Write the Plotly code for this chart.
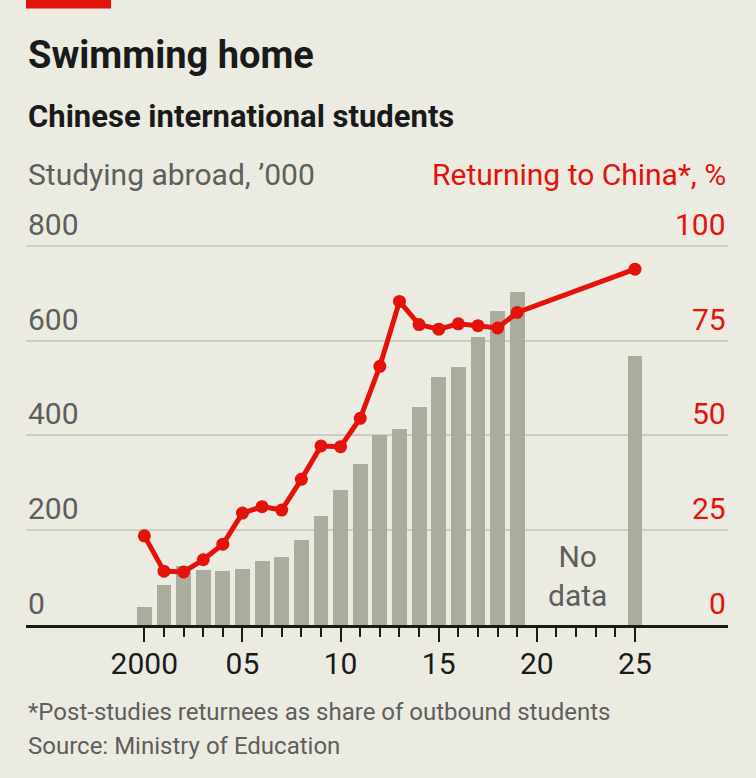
import plotly.graph_objects as go

# ---- data ----
bar_years = [2000, 2001, 2002, 2003, 2004, 2005, 2006, 2007, 2008, 2009,
             2010, 2011, 2012, 2013, 2014, 2015, 2016, 2017, 2018, 2019, 2025]
studying_abroad = [39, 84, 125, 117, 114, 119, 134, 144, 180, 229,
                   285, 340, 400, 414, 460, 524, 545, 608, 662, 703, 568]

line_years = [2000, 2001, 2002, 2003, 2004, 2005, 2006, 2007, 2008, 2009,
              2010, 2011, 2012, 2013, 2014, 2015, 2016, 2017, 2018, 2019, 2025]
returning_pct = [23.5, 14.2, 14.0, 17.2, 21.3, 29.5, 31.2, 30.3, 38.4, 47.2,
                 47.0, 54.5, 68.2, 85.3, 79.2, 78.0, 79.4, 78.9, 78.3, 82.4, 93.8]

left_ticks = [0, 200, 400, 600, 800]
right_ticks = [0, 25, 50, 75, 100]
x_major = [2000, 2005, 2010, 2015, 2020, 2025]
x_major_text = ["2000", "05", "10", "15", "20", "25"]
x_minor = list(range(2000, 2026))

# ---- style ----
BG = "#ECEBE1"
BAR = "#ABAB9E"
RED = "#E3120B"
GRID = "#CDCCC2"
GREY_TXT = "#5E5E5E"
DARK = "#1A1A1A"
FONT = "Roboto, sans-serif"

W, H = 756, 778
ML, MR, MB = 26, 28, 153
PX_PER_UNIT = 379 / 800          # 800 units span 379 px
Y_TOP = 812
plot_h = Y_TOP * PX_PER_UNIT
MT = H - MB - plot_h
Y2_TOP = 100 * Y_TOP / 800


def py(pix):
    return (H - MB - pix) / plot_h


def px(pix):
    return (pix - ML) / (W - ML - MR)


fig = go.Figure()
fig.add_trace(go.Bar(x=bar_years, y=studying_abroad, marker_color=BAR,
                     marker_line_width=0, width=0.76, yaxis="y"))
fig.add_trace(go.Scatter(x=line_years, y=returning_pct, yaxis="y2",
                         mode="lines+markers",
                         line=dict(color=RED, width=5),
                         marker=dict(color=RED, size=13),
                         cliponaxis=False))

fig.update_layout(
    width=W, height=H,
    paper_bgcolor=BG, plot_bgcolor=BG,
    margin=dict(l=ML, r=MR, t=MT, b=MB, pad=0),
    showlegend=False,
    bargap=0,
    font=dict(family=FONT, color=GREY_TXT),
    xaxis=dict(
        range=[1993.97, 2029.74],
        tickvals=x_major, ticktext=x_major_text,
        ticks="outside", ticklen=14, tickwidth=2, tickcolor=DARK,
        minor=dict(tickvals=x_minor, ticks="outside", ticklen=9,
                   tickwidth=2, tickcolor=DARK),
        showline=True, linecolor=DARK, linewidth=2.5,
        showgrid=False, zeroline=False,
        ticklabelstandoff=-4,
        tickfont=dict(size=30, color=DARK, family=FONT),
        fixedrange=True,
    ),
    yaxis=dict(
        range=[0, Y_TOP], tickvals=left_ticks[1:],
        showgrid=True, gridcolor=GRID, gridwidth=2,
        zeroline=False, showticklabels=False, ticks="",
        fixedrange=True,
    ),
    yaxis2=dict(
        range=[0, Y2_TOP], overlaying="y", side="right",
        showgrid=False, zeroline=False, showticklabels=False, ticks="",
        fixedrange=True,
    ),
)

ann = []
# left axis tick labels (above gridlines)
for v in left_ticks:
    ann.append(dict(x=0, xref="paper", y=v, yref="y", text=str(v),
                    xanchor="left", yanchor="bottom", yshift=2,
                    showarrow=False,
                    font=dict(size=30, color=GREY_TXT, family=FONT)))
# right axis tick labels
for v in right_ticks:
    ann.append(dict(x=1, xref="paper", y=v, yref="y2", text=str(v),
                    xanchor="right", yanchor="bottom", yshift=2,
                    showarrow=False,
                    font=dict(size=30, color=RED, family=FONT)))

ann += [
    dict(x=0, xref="paper", y=py(55), yref="paper", text="<b>Swimming home</b>",
         xanchor="left", yanchor="middle", showarrow=False,
         font=dict(size=38, color=DARK, family=FONT)),
    dict(x=0, xref="paper", y=py(117), yref="paper",
         text="<b>Chinese international students</b>",
         xanchor="left", yanchor="middle", showarrow=False,
         font=dict(size=31, color=DARK, family=FONT)),
    dict(x=0, xref="paper", y=py(175), yref="paper",
         text="Studying abroad, ’000",
         xanchor="left", yanchor="middle", showarrow=False,
         font=dict(size=30, color=GREY_TXT, family=FONT)),
    dict(x=1, xref="paper", y=py(175), yref="paper",
         text="Returning to China*, %",
         xanchor="right", yanchor="middle", showarrow=False,
         font=dict(size=30, color=RED, family=FONT)),
    dict(x=2022.05, xref="x", y=py(576), yref="paper",
         text="No<br>data", align="center",
         xanchor="center", yanchor="middle", showarrow=False,
         font=dict(size=30, color=GREY_TXT, family=FONT)),
    dict(x=0, xref="paper", y=py(712), yref="paper",
         text="*Post-studies returnees as share of outbound students",
         xanchor="left", yanchor="middle", showarrow=False,
         font=dict(size=24, color=GREY_TXT, family=FONT)),
    dict(x=0, xref="paper", y=py(746), yref="paper",
         text="Source: Ministry of Education",
         xanchor="left", yanchor="middle", showarrow=False,
         font=dict(size=24, color=GREY_TXT, family=FONT)),
]
fig.update_layout(annotations=ann)

fig.add_shape(type="rect", xref="paper", yref="paper",
              x0=px(26), x1=px(111), y0=py(9), y1=py(-2),
              fillcolor=RED, line_width=0, layer="above")

fig.write_html(
    "out.html",
    config={"displayModeBar": False},
    post_script="document.body.style.margin='0';document.body.style.overflow='hidden';",
)
